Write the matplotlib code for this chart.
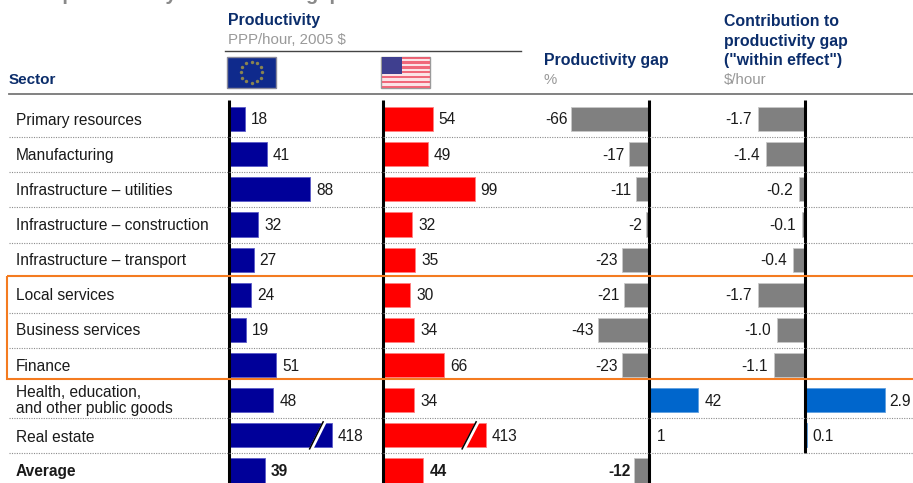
import numpy as np
import matplotlib
matplotlib.use("Agg")
import matplotlib.pyplot as plt
from matplotlib.patches import Rectangle, Polygon

plt.rcParams['font.family'] = ['Liberation Sans', 'DejaVu Sans']

sectors = ["Primary resources", "Manufacturing", "Infrastructure \u2013 utilities",
           "Infrastructure \u2013 construction", "Infrastructure \u2013 transport",
           "Local services", "Business services", "Finance",
           "Health, education,\nand other public goods", "Real estate", "Average"]
eu_labels = ["18", "41", "88", "32", "27", "24", "19", "51", "48", "418", "39"]
eu_bars = [18, 41, 88, 32, 27, 24, 19, 51, 48, 111, 39]
us_labels = ["54", "49", "99", "32", "35", "30", "34", "66", "34", "413", "44"]
us_bars = [54, 49, 99, 32, 35, 30, 34, 66, 34, 111, 44]
gap_values = [-66, -17, -11, -2, -23, -21, -43, -23, 42, 1, -12]
gap_labels = ["-66", "-17", "-11", "-2", "-23", "-21", "-43", "-23", "42", "1", "-12"]
contrib_values = [-1.7, -1.4, -0.2, -0.1, -0.4, -1.7, -1.0, -1.1, 2.9, 0.1, None]
contrib_labels = ["-1.7", "-1.4", "-0.2", "-0.1", "-0.4", "-1.7", "-1.0", "-1.1", "2.9", "0.1", ""]

W, H = 913, 483
NAVY, GREY, TXT = "#0B2D6B", "#999999", "#1a1a1a"
FS = 11.2
fig = plt.figure(figsize=(W / 100, H / 100), dpi=100, facecolor="white")

# overlay in pixel units for rules, headers and flags
px = fig.add_axes([0, 0, 1, 1], zorder=5)
px.set_xlim(0, W); px.set_ylim(H, 0); px.axis("off")

ROW0, STEP = 119.0, 35.15
TOP = 100.0
y_to_row = lambda y: (y - ROW0) / STEP
ylim = (y_to_row(H), y_to_row(TOP))
n = len(sectors)


def column(x0, x_left, x_right, scale):
    """Axes whose zero is at pixel x0 and with `scale` pixels per unit."""
    ax = fig.add_axes([x_left / W, 0, (x_right - x_left) / W, (H - TOP) / H], zorder=2)
    ax.set_xlim((x_left - x0) / scale, (x_right - x0) / scale)
    ax.set_ylim(*ylim)
    ax.axis("off")
    return ax


def draw(ax, vals, labels, color, edge, scale, pos_off=6, neg_off=4, axis_end=None, bold_last=True):
    rows = [i for i, v in enumerate(vals) if v is not None]
    ax.barh(rows, [vals[i] for i in rows], height=24.2 / STEP, color=color,
            edgecolor=edge, linewidth=0.6, zorder=2)
    ax.vlines(0, ylim[1], axis_end if axis_end is not None else ylim[0],
              color="black", lw=2.2, zorder=4)
    for i in rows:
        v = vals[i]
        off = pos_off if v >= 0 else -neg_off
        ax.annotate(labels[i], (v, i), xytext=(off * .72, -1 * .72), textcoords="offset points",
                    ha="left" if v >= 0 else "right", va="center", fontsize=FS, color=TXT,
                    fontweight="bold" if (i == n - 1 and bold_last) else "normal",
                    annotation_clip=False, zorder=6)


K = 0.93
ax_eu = column(228.5, 222, 381, K)
ax_us = column(382.5, 376, 540, K)
ax_gap = column(648.5, 540, 800, 1.17)
ax_con = column(804.5, 700, W, 27.6)

# row separators and highlight drawn beneath the columns
for i in range(n - 1):
    if i in (4, 7):
        continue
    y = ROW0 + STEP * (i + 0.5) + (0.6 if i < 9 else 0)
    px.plot([9, W], [y, y], color="#8c8c8c", lw=0.8, ls=(0, (1, 1.2)), zorder=1)

draw(ax_eu, eu_bars, eu_labels, "#000099", "#5a5ac8", K)
draw(ax_us, us_bars, us_labels, "#FF0000", "#ff7f7f", K)
draw(ax_gap, gap_values, gap_labels, "#808080", "#c8c8c8", 1.17, pos_off=7)
draw(ax_con, contrib_values, contrib_labels, "#808080", "#c8c8c8", 27.6, pos_off=5, neg_off=6,
     axis_end=9.5)
# recolour the positive bars
for ax, vals in ((ax_gap, gap_values), (ax_con, [v for v in contrib_values if v is not None])):
    for patch, v in zip(ax.patches, vals):
        if v > 0:
            patch.set_facecolor("#0066CC"); patch.set_edgecolor("#5fa0e0")

# axis-break marks on the truncated real-estate bars
for ax, bars, bot, top in ((ax_eu, eu_bars, -20.5, -7), (ax_us, us_bars, -22, -8)):
    end = bars[9]
    yb, yt = 9 + 13.5 / STEP, 9 - 13.5 / STEP
    xb, xt = end + bot / K, end + top / K
    w = 4.5 / K
    ax.add_patch(Polygon([(xb - w/2, yb), (xt - w/2, yt), (xt + w/2, yt), (xb + w/2, yb)],
                         closed=True, fc="white", ec="none", zorder=3))
    ax.plot([xb - 1.6 / K, xt - 1.6 / K], [yb, yt], color="black", lw=1.1, zorder=3)

# sector names
for i, s in enumerate(sectors):
    py = ROW0 + STEP * i + 1
    if i == 8:
        py = ROW0 + STEP * i
    if i == 9:
        py += 1
    px.text(16, py, s, fontsize=FS, color=TXT, va="center", ha="left", linespacing=1.08,
            fontweight="bold" if i == n - 1 else "normal")

# rules
px.plot([225, 521], [50.5, 50.5], color="#444444", lw=1.0)
px.plot([9, W], [93.5, 93.5], color="#777777", lw=1.3)
px.add_patch(Rectangle((7.3, 276), W + 10, 102.6, fill=False, ec="#F47B20", lw=1.5, zorder=7))

# title, cut by the top edge of the picture
px.text(17, 0.5, "Low productivity in the sector gap", fontsize=14.4, fontweight="bold",
        color="#8a8a8a", va="baseline", ha="left", clip_on=False)

# headers
def hdr(x, y, s, color=NAVY, bold=True, fs=11.4):
    px.text(x, y, s, fontsize=fs, color=color, fontweight="bold" if bold else "normal",
            va="baseline", ha="left")

hdr(228, 25, "Productivity")
hdr(228, 44, "PPP/hour, 2005 $", GREY, False, 10.8)
hdr(9, 84, "Sector", fs=11.0)
hdr(544, 65, "Productivity gap")
hdr(544, 84, "%", GREY, False, 10.8)
hdr(724, 26, "Contribution to")
hdr(724, 46, "productivity gap")
hdr(724, 65, '("within effect")')
hdr(724, 84, "$/hour", GREY, False, 10.8)

# flags
fx, fy, fw, fh = 227, 56.5, 49, 31.5
px.add_patch(Rectangle((fx, fy), fw, fh, fc="#0f2a8c", ec="#8a8a9a", lw=1))
ang = np.deg2rad(np.arange(0, 360, 30))
px.scatter(fx + fw / 2 + 10.5 * np.cos(ang), fy + fh / 2 + 10.5 * np.sin(ang),
           s=6, color="#8a8450", linewidths=0, zorder=6)

ux = 381
px.add_patch(Rectangle((ux, fy), fw, fh, fc="#fbe3e6", ec="#9a9a9a", lw=1))
for k in range(7):
    sy = fy + k * fh / 6.5
    px.add_patch(Rectangle((ux + 0.5, sy), fw - 1, fh / 13,
                           fc="#ef5b6e", ec="none", zorder=6, alpha=.9))
px.add_patch(Rectangle((ux + 0.5, fy + 0.5), 20, 17, fc="#3f3f8f", ec="none", zorder=7))

fig.savefig("out.png", dpi=100, facecolor="white")
